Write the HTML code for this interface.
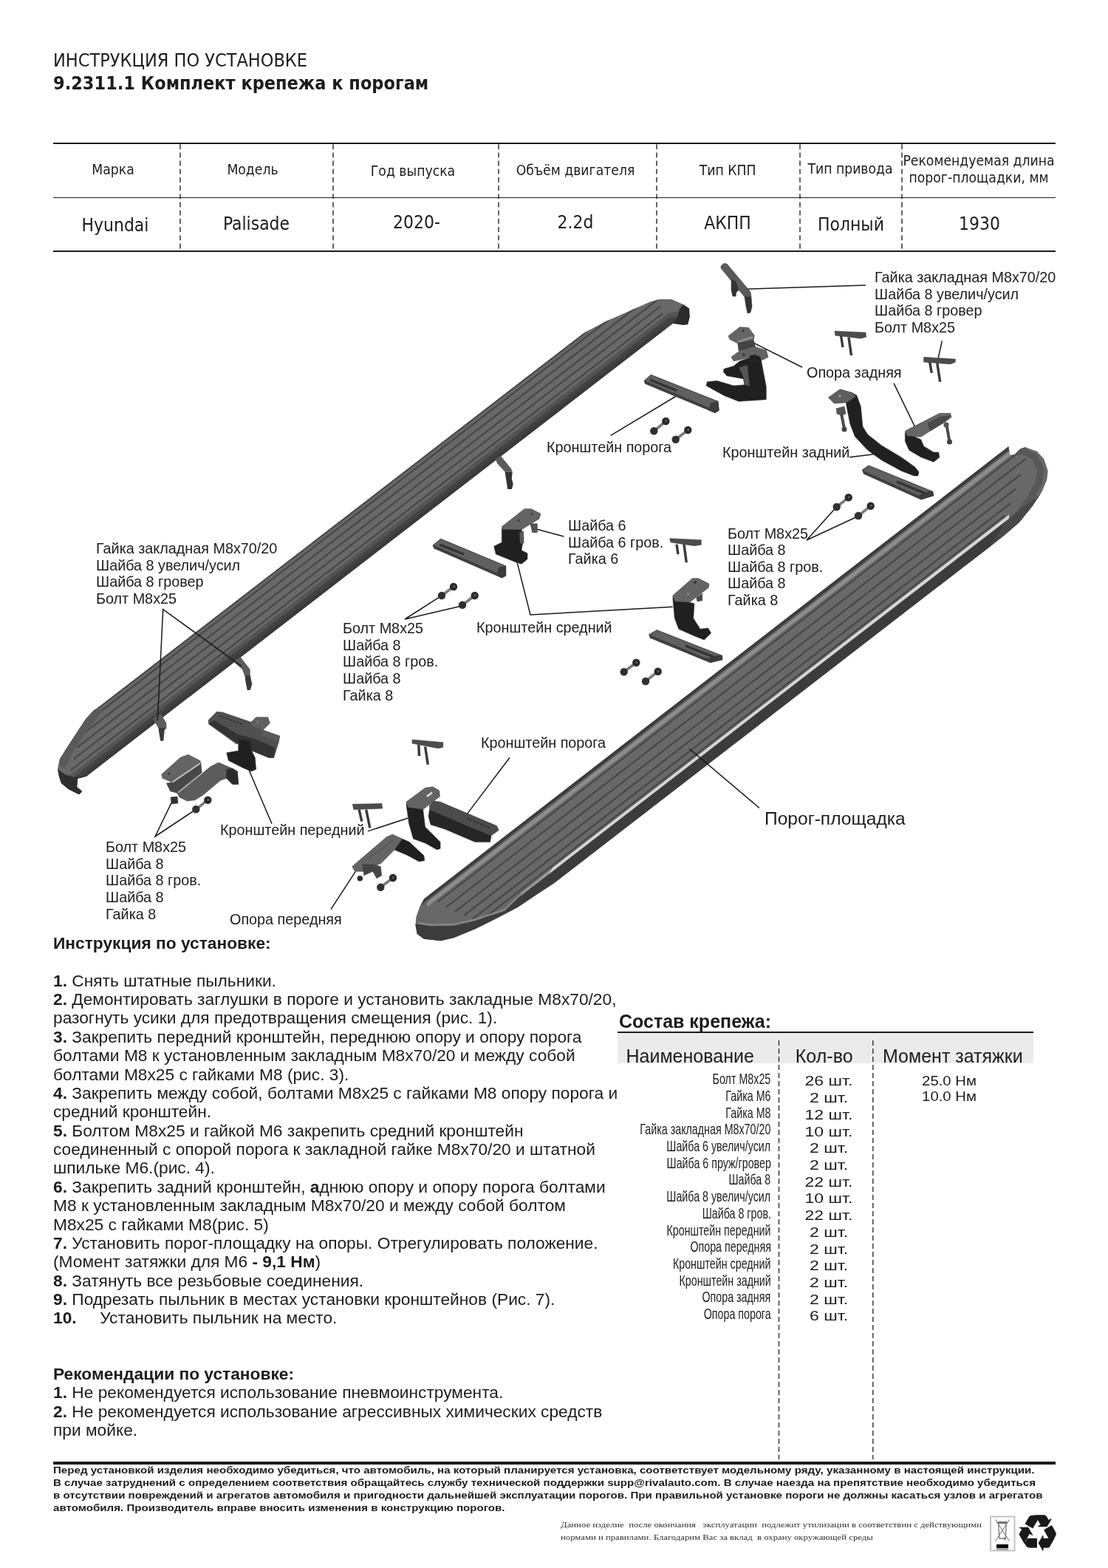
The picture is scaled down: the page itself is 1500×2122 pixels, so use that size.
<!DOCTYPE html><html lang="ru"><head><meta charset="utf-8"><title>Инструкция по установке 9.2311.1</title>
<style>
*{margin:0;padding:0;box-sizing:border-box}
html,body{width:1500px;height:2122px;background:#fff;overflow:hidden}
body{position:relative;font-family:"Liberation Sans",sans-serif;color:#1c1c1c}
#pg{position:absolute;left:0;top:0;width:1500px;height:2122px;will-change:transform}
.t{position:absolute;white-space:pre;line-height:1;transform-origin:0 0}
.th{font-family:"DejaVu Sans Condensed","DejaVu Sans","Liberation Sans",sans-serif}
.hl{position:absolute;background:#1c1c1c}
b{font-weight:700}
svg{position:absolute;left:0;top:0}
.sf{font-family:"Liberation Serif",serif;font-size:10.5px;color:#333}
</style></head><body><div id="pg">
<div class="t th" style="top:68.85px;font-size:25px;left:72.00px;">ИНСТРУКЦИЯ ПО УСТАНОВКЕ</div>
<div class="t th" style="top:99.85px;font-size:25px;left:72.00px;font-weight:700;">9.2311.1 Комплект крепежа к порогам</div>
<div class="hl" style="left:72px;top:192.8px;width:1357px;height:2.4px"></div>
<div class="hl" style="left:72px;top:266.6px;width:1357px;height:1.5px"></div>
<div class="hl" style="left:72px;top:339.1px;width:1357px;height:2.4px"></div>
<svg width="1500" height="2122" viewBox="0 0 1500 2122" style="pointer-events:none"><line x1="244" y1="195.2" x2="244" y2="339" stroke="#222" stroke-width="1.4" stroke-dasharray="6.8 4.4"/><line x1="451" y1="195.2" x2="451" y2="339" stroke="#222" stroke-width="1.4" stroke-dasharray="6.8 4.4"/><line x1="675" y1="195.2" x2="675" y2="339" stroke="#222" stroke-width="1.4" stroke-dasharray="6.8 4.4"/><line x1="889" y1="195.2" x2="889" y2="339" stroke="#222" stroke-width="1.4" stroke-dasharray="6.8 4.4"/><line x1="1083" y1="195.2" x2="1083" y2="339" stroke="#222" stroke-width="1.4" stroke-dasharray="6.8 4.4"/><line x1="1221" y1="195.2" x2="1221" y2="339" stroke="#222" stroke-width="1.4" stroke-dasharray="6.8 4.4"/></svg>
<div class="t th" style="top:219.76px;font-size:19.2px;left:-147.00px;width:600px;text-align:center;transform-origin:50% 0;">Марка</div>
<div class="t th" style="top:219.76px;font-size:19.2px;left:42.00px;width:600px;text-align:center;transform-origin:50% 0;">Модель</div>
<div class="t th" style="top:221.76px;font-size:19.2px;left:259.00px;width:600px;text-align:center;transform-origin:50% 0;">Год выпуска</div>
<div class="t th" style="top:220.76px;font-size:19.2px;left:479.00px;width:600px;text-align:center;transform-origin:50% 0;">Объём двигателя</div>
<div class="t th" style="top:220.76px;font-size:19.2px;left:685.00px;width:600px;text-align:center;transform-origin:50% 0;">Тип КПП</div>
<div class="t th" style="top:218.76px;font-size:19.2px;left:851.00px;width:600px;text-align:center;transform-origin:50% 0;">Тип привода</div>
<div class="t th" style="top:207.76px;font-size:19.2px;left:1025.00px;width:600px;text-align:center;transform-origin:50% 0;">Рекомендуемая длина</div>
<div class="t th" style="top:230.76px;font-size:19.2px;left:1025.00px;width:600px;text-align:center;transform-origin:50% 0;">порог-площадки, мм</div>
<div class="t th" style="top:292.96px;font-size:24.4px;left:-144.00px;width:600px;text-align:center;transform-origin:50% 0;">Hyundai</div>
<div class="t th" style="top:290.76px;font-size:24.4px;left:47.00px;width:600px;text-align:center;transform-origin:50% 0;">Palisade</div>
<div class="t th" style="top:289.36px;font-size:24.4px;left:264.00px;width:600px;text-align:center;transform-origin:50% 0;">2020-</div>
<div class="t th" style="top:289.36px;font-size:24.4px;left:479.00px;width:600px;text-align:center;transform-origin:50% 0;">2.2d</div>
<div class="t th" style="top:290.36px;font-size:24.4px;left:685.00px;width:600px;text-align:center;transform-origin:50% 0;">АКПП</div>
<div class="t th" style="top:292.36px;font-size:24.4px;left:852.00px;width:600px;text-align:center;transform-origin:50% 0;">Полный</div>
<div class="t th" style="top:291.36px;font-size:24.4px;left:1026.00px;width:600px;text-align:center;transform-origin:50% 0;">1930</div>
<svg width="1500" height="2122" viewBox="0 0 1500 2122">
<defs>
<clipPath id="cA"><polygon points="132,958 790,450.9 819,435.5 853,420.5 880,408.5 893,405 909,405 925,412 933,417.5 933.5,429 931,439 924,439.5 911,437.4 117,1050.4 105,1053.5 104,1065 111,1071 107,1075 93,1068 83,1060 80,1051 78,1041 81,1027 95,1005 116,973 127,961"/></clipPath>
<clipPath id="cB"><polygon points="574,1216.4 1365.3,604.2 1367.3,616 1373.3,615.3 1381.3,607.3 1388,605.3 1404,610.7 1413.3,621.3 1418.7,637.3 1417.3,649.3 1410.7,665.3 1397.3,685.3 1380,706.7 1360,724 1333.3,745.3 1316,758.4 750,1195.3 723.3,1212.7 700.7,1228 670,1244 643.3,1257.3 614,1269.3 596.7,1273.3 574,1270.7 564.7,1264 562.5,1252 563.3,1241.3 568,1228"/></clipPath>
</defs>
<polygon points="132,958 790,450.9 819,435.5 853,420.5 880,408.5 893,405 909,405 925,412 933,417.5 933.5,429 931,439 924,439.5 911,437.4 117,1050.4 105,1053.5 104,1065 111,1071 107,1075 93,1068 83,1060 80,1051 78,1041 81,1027 95,1005 116,973 127,961" fill="#686868"/>
<g clip-path="url(#cA)">
<polygon points="60,1075.8 905,423.7 935,418 960,418 960,470 60,1200" fill="#545454"/>
<polygon points="60,1082.3 905,430.1 935,426 960,426 960,470 60,1200" fill="#424242"/>
<polygon points="60,1088.7 900,440.3 900,469.9 60,1118.7" fill="#3a3a3a"/>
<line x1="112" y1="981.5" x2="885" y2="385.7" stroke="#484848" stroke-width="2.3"/>
<line x1="108" y1="996.7" x2="888" y2="395.3" stroke="#484848" stroke-width="2.3"/>
<line x1="104" y1="1011.9" x2="891" y2="405" stroke="#484848" stroke-width="2.3"/>
<line x1="100" y1="1027.1" x2="894" y2="414.6" stroke="#484848" stroke-width="2.3"/>
<line x1="96" y1="1042.4" x2="897" y2="424.3" stroke="#484848" stroke-width="2.3"/>
<line x1="120" y1="968.3" x2="800" y2="444.2" stroke="#484848" stroke-width="2.3"/>
<polygon points="70,1030 95,1000 118,970 132,958 140,962 120,985 100,1015 88,1040" fill="#5a5a5a"/>
</g>
<polygon points="911,437.5 924,439.5 931,439 933.5,429 933,417.5 925,412 920,418 917,430" fill="#2c2c2c"/>
<polygon points="80,1051 83,1060 93,1068 107,1075 111,1071 104,1065 105,1053.5 117,1050.4 100,1052 88,1048 78,1041" fill="#2e2e2e"/>
<polygon points="670.4,620.8 677.9,617.1 691.9,633.9 693.7,638.5 683.5,638.5 673.2,627.3" fill="#5c5c5c"/>
<polygon points="683.5,638.5 693.7,638.5 692.8,647.9 694.7,655.3 692.8,661.9 687.2,661.9 685.3,649.7" fill="#333"/>
<polygon points="316,895.3 325.3,888.7 338.7,906 338.7,916.7 332,916.7 328,906" fill="#5c5c5c"/>
<polygon points="332,914 338.7,914 341.3,926 338.7,934 334.7,934 332,920" fill="#3a3a3a"/>
<polygon points="207,972 218,966 225.3,978.7 225.3,986 214.7,986" fill="#5c5c5c"/>
<polygon points="214.7,985 225.3,985 222.7,988 221.3,1002.7 217.3,1002.7 215,990" fill="#3a3a3a"/>
<polygon points="574,1216.4 1365.3,604.2 1367.3,616 1373.3,615.3 1381.3,607.3 1388,605.3 1404,610.7 1413.3,621.3 1418.7,637.3 1417.3,649.3 1410.7,665.3 1397.3,685.3 1380,706.7 1360,724 1333.3,745.3 1316,758.4 750,1195.3 723.3,1212.7 700.7,1228 670,1244 643.3,1257.3 614,1269.3 596.7,1273.3 574,1270.7 564.7,1264 562.5,1252 563.3,1241.3 568,1228" fill="#686868"/>
<g clip-path="url(#cB)">
<polygon points="540,1237 1367,597.1 1367,608.1 540,1247.9" fill="#3c3c3c"/>
<polygon points="540,1247.9 1367,608.1 1367,610.5 540,1250.1" fill="#606060"/>
<polygon points="578,1220.8 1367,610.5 1367,617.4 578,1227.6" fill="#8c8c8c"/>
<polygon points="578,1227.6 1367,617.4 1367,619.8 578,1229.9" fill="#6a6a6a"/>
<line x1="592" y1="1220.8" x2="1396" y2="599.1" stroke="#484848" stroke-width="2.3"/>
<line x1="604" y1="1227.6" x2="1389" y2="620.7" stroke="#484848" stroke-width="2.3"/>
<line x1="616" y1="1233.9" x2="1382" y2="641.8" stroke="#484848" stroke-width="2.3"/>
<line x1="628" y1="1239" x2="1375" y2="661.7" stroke="#484848" stroke-width="2.3"/>
<line x1="640" y1="1243.5" x2="1368" y2="681.1" stroke="#484848" stroke-width="2.3"/>
<line x1="652" y1="1245.1" x2="1361" y2="697.5" stroke="#484848" stroke-width="2.3"/>
<polyline points="1368,612 1386,611 1401,619 1409,636 1406,654 1394,676 1376,700 1358,716" fill="none" stroke="#575757" stroke-width="9" stroke-linejoin="round"/>
<polygon points="1440,644.6 1362,704.9 700,1216.1 683,1233 643,1246.5 614,1253 583,1253.5 560,1250 540,1300 1440,1300" fill="#3c3c3c"/>
<polygon points="1362,704.9 1440,644.6 1440,800 1300,800" fill="#484848"/>
<polygon points="748,1174.4 1366,696.6 1366,701.8 742,1183.7" fill="#d6d6d6"/>
<polygon points="705,1208.8 748,1174.4 742,1183.7 705,1212.2" fill="#9a9a9a"/>
<polyline points="566,1249 583,1251.5 614,1251 643,1244.5 683,1231 705,1210.5" fill="none" stroke="#8a8a8a" stroke-width="2"/>
</g>
<polyline points="1009,391.2 1172,386" fill="none" stroke="#1a1a1a" stroke-width="1.5"/>
<polyline points="1016,462 1086,497" fill="none" stroke="#1a1a1a" stroke-width="1.5"/>
<polyline points="1210,518.7 1242,584.7" fill="none" stroke="#1a1a1a" stroke-width="1.5"/>
<polyline points="1275.3,461.3 1269.3,488.7" fill="none" stroke="#1a1a1a" stroke-width="1.5"/>
<polyline points="914.7,536.5 826.7,589.3" fill="none" stroke="#1a1a1a" stroke-width="1.5"/>
<polyline points="1150,618.7 1182.7,614.7" fill="none" stroke="#1a1a1a" stroke-width="1.5"/>
<polyline points="1130,688.7 1092,731 1158.7,700" fill="none" stroke="#1a1a1a" stroke-width="1.5"/>
<polyline points="726,716 763.3,726" fill="none" stroke="#1a1a1a" stroke-width="1.5"/>
<polyline points="699.3,758 718,832 910.7,821.3" fill="none" stroke="#1a1a1a" stroke-width="1.5"/>
<polyline points="594,808.7 548,838 622,820.7" fill="none" stroke="#1a1a1a" stroke-width="1.5"/>
<polyline points="213.3,975.3 220.7,824.7 326.7,901.3" fill="none" stroke="#1a1a1a" stroke-width="1.5"/>
<polyline points="232,1086.7 210,1132 261.3,1098" fill="none" stroke="#1a1a1a" stroke-width="1.5"/>
<polyline points="337.3,1042.7 368,1114.7" fill="none" stroke="#1a1a1a" stroke-width="1.5"/>
<polyline points="497.9,1124.9 552.1,1107.3" fill="none" stroke="#1a1a1a" stroke-width="1.5"/>
<polyline points="690,1025.2 629.1,1105.9" fill="none" stroke="#1a1a1a" stroke-width="1.5"/>
<polyline points="481.3,1179.3 448,1230.7" fill="none" stroke="#1a1a1a" stroke-width="1.5"/>
<polyline points="933,1013 1028,1093.5" fill="none" stroke="#1a1a1a" stroke-width="1.5"/>
<polygon points="976,360 980,356.5 984,357 1016,395 1017,402 1008,402 1004,397 976,363" fill="#5a5a5a" stroke="#303030" stroke-width="0.5" stroke-linejoin="round"/>
<polygon points="990,378 996,381 1000,393 997,395 996,401 992,401 990,393" fill="#333" stroke="#303030" stroke-width="0.5" stroke-linejoin="round"/>
<polygon points="1008,402 1017,402 1018,415 1016,423 1012,424 1010,415" fill="#333" stroke="#303030" stroke-width="0.5" stroke-linejoin="round"/>
<polygon points="980,499.3 993.3,495.3 1001.3,488.7 1017.3,483.3 1030.7,488.7 1037.3,523.3 1037.3,540.7 1000,543.3 980,535.3 956,522 957.3,516.7 970.7,515.3 993.3,522 1008,520.7 1006.7,512.7 984,508.7 979.3,503.3" fill="#202020" stroke="#303030" stroke-width="0.5" stroke-linejoin="round"/>
<polygon points="1000,497 1012,494 1015,523 1008,520.7 1006,510" fill="#555" stroke="#303030" stroke-width="0.5" stroke-linejoin="round"/>
<polygon points="998.7,463.3 1020,459.3 1022.7,470 1000,474.5" fill="#444" stroke="#303030" stroke-width="0.5" stroke-linejoin="round"/>
<polygon points="986,454.7 1001.3,442.7 1013.3,443.3 1021.3,454 1020,460.7 998.7,464.7 988,459.3" fill="#666" stroke="#303030" stroke-width="0.5" stroke-linejoin="round"/>
<polyline points="999,462.5 1019,456" fill="none" stroke="#999" stroke-width="2"/>
<polygon points="990,483.3 1001.3,474.7 1020,468.7 1037.3,474 1040,483.3 1032,487.3 1017.3,483.3 993.3,488.7" fill="#646464" stroke="#303030" stroke-width="0.5" stroke-linejoin="round"/>
<polygon points="1015,481.5 1022,480 1029,483 1031,489 1015,489" fill="#202020" stroke="#303030" stroke-width="0.5" stroke-linejoin="round"/>
<circle cx="1006" cy="447.5" r="1.6" fill="#333"/>
<circle cx="1007" cy="480" r="1.8" fill="#333"/>
<polygon points="872,515.3 881.3,507.3 972,543.3 973.3,555.3 968,558.7 873.3,519.3" fill="#3e3e3e" stroke="#303030" stroke-width="0.5" stroke-linejoin="round"/>
<polygon points="872,515.3 881.3,507.3 972,543.3 967.3,549.7 964,553.8 873.8,515.9" fill="#606060" stroke="#303030" stroke-width="0.5" stroke-linejoin="round"/>
<line x1="880" y1="514" x2="916" y2="528.5" stroke="#333" stroke-width="3.2"/>
<polygon points="962,546 972,543.3 973.3,555.3 968,558.7 960,555" fill="#3c3c3c" stroke="#303030" stroke-width="0.5" stroke-linejoin="round"/>
<line x1="901.3" y1="570" x2="885.3" y2="583.3" stroke="#7a7a7a" stroke-width="3.6"/>
<circle cx="901.3" cy="570" r="5.2" fill="#2a2a2a"/>
<circle cx="885.3" cy="583.3" r="5.2" fill="#303030"/>
<circle cx="901.8" cy="569.5" r="1.5" fill="#5c5c5c"/>
<line x1="931.3" y1="582" x2="914.7" y2="594.7" stroke="#7a7a7a" stroke-width="3.6"/>
<circle cx="931.3" cy="582" r="5.2" fill="#2a2a2a"/>
<circle cx="914.7" cy="594.7" r="5.2" fill="#303030"/>
<circle cx="931.8" cy="581.5" r="1.5" fill="#5c5c5c"/>
<line x1="1138.5" y1="454" x2="1141" y2="470" stroke="#383838" stroke-width="3.4"/>
<line x1="1149" y1="456.7" x2="1152.5" y2="481" stroke="#383838" stroke-width="3.4"/>
<polygon points="1130,448 1172,450 1172.7,456 1165.3,458 1130.7,454" fill="#4c4c4c" stroke="#303030" stroke-width="0.5" stroke-linejoin="round"/>
<line x1="1258.7" y1="490" x2="1261.3" y2="504.7" stroke="#383838" stroke-width="3.4"/>
<line x1="1268.7" y1="491.3" x2="1272.7" y2="516.7" stroke="#383838" stroke-width="3.4"/>
<polygon points="1250.7,483.3 1293.3,486 1293.3,490 1286.7,492.7 1250.7,490" fill="#4c4c4c" stroke="#303030" stroke-width="0.5" stroke-linejoin="round"/>
<polygon points="1153.3,531.3 1160,535.3 1165.3,550 1168,577.3 1174.7,588 1193.3,602.7 1220,618.7 1238.7,632 1244,638.7 1242.7,644 1237.3,644 1220,637.3 1193.3,622.7 1174.7,609.3 1157.3,590.7 1150.7,573.3 1145.3,546" fill="#202020" stroke="#303030" stroke-width="0.5" stroke-linejoin="round"/>
<polygon points="1121.3,538 1137.3,526.7 1153.3,531.3 1158.7,536.7 1146.7,544.7 1129.3,546" fill="#5e5e5e" stroke="#303030" stroke-width="0.5" stroke-linejoin="round"/>
<circle cx="1137" cy="536" r="1.8" fill="#999"/>
<polygon points="1132,553 1143,550 1145,560 1139,562 1133,560" fill="#555" stroke="#303030" stroke-width="0.5" stroke-linejoin="round"/>
<line x1="1139" y1="560" x2="1143" y2="580" stroke="#4a4a4a" stroke-width="4"/>
<circle cx="1143" cy="581" r="3.5" fill="#444"/>
<polygon points="1225.3,585.3 1246.7,594.7 1250.7,604 1264,612 1270.7,612 1272,618.7 1264,625.3 1246.7,618.7 1230.7,609.3 1225.3,597.3" fill="#202020" stroke="#303030" stroke-width="0.5" stroke-linejoin="round"/>
<polygon points="1225.3,583.3 1272,559.3 1286.7,559.3 1288,564.7 1280,570 1246.7,591.3 1228,590" fill="#666" stroke="#303030" stroke-width="0.5" stroke-linejoin="round"/>
<polygon points="1256,573.3 1273.3,564 1286.7,562.7 1280,570.7 1260,582.7" fill="#4a4a4a" stroke="#303030" stroke-width="0.5" stroke-linejoin="round"/>
<line x1="1281" y1="572" x2="1285.5" y2="598" stroke="#4a4a4a" stroke-width="4"/>
<circle cx="1285.5" cy="598" r="3.6" fill="#444"/>
<circle cx="1281" cy="575" r="3.6" fill="#555"/>
<polygon points="1167.3,636 1176,630 1262.7,665.3 1264,670.7 1246.7,676 1169.3,641.3" fill="#3e3e3e" stroke="#303030" stroke-width="0.5" stroke-linejoin="round"/>
<polygon points="1167.3,636 1176,630 1262.7,665.3 1258,665.1 1242.7,671.1 1169.8,637.9" fill="#606060" stroke="#303030" stroke-width="0.5" stroke-linejoin="round"/>
<line x1="1214" y1="652" x2="1252" y2="667.5" stroke="#333" stroke-width="3.2"/>
<polygon points="1250,668 1262.7,665.3 1264,670.7 1246.7,676" fill="#3c3c3c" stroke="#303030" stroke-width="0.5" stroke-linejoin="round"/>
<line x1="1148.7" y1="673.3" x2="1132.7" y2="686" stroke="#7a7a7a" stroke-width="3.6"/>
<circle cx="1148.7" cy="673.3" r="5.2" fill="#2a2a2a"/>
<circle cx="1132.7" cy="686" r="5.2" fill="#303030"/>
<circle cx="1149.2" cy="672.8" r="1.5" fill="#5c5c5c"/>
<line x1="1178.7" y1="684.7" x2="1162" y2="698" stroke="#7a7a7a" stroke-width="3.6"/>
<circle cx="1178.7" cy="684.7" r="5.2" fill="#2a2a2a"/>
<circle cx="1162" cy="698" r="5.2" fill="#303030"/>
<circle cx="1179.2" cy="684.2" r="1.5" fill="#5c5c5c"/>
<polygon points="586,738 596.7,729.3 684.7,766 684.7,779.3 679.3,782 587.3,742" fill="#3e3e3e" stroke="#303030" stroke-width="0.5" stroke-linejoin="round"/>
<polygon points="586,738 596.7,729.3 684.7,766 678.7,773.7 675.3,777.1 587.8,738.6" fill="#606060" stroke="#303030" stroke-width="0.5" stroke-linejoin="round"/>
<line x1="595" y1="737" x2="628" y2="750" stroke="#333" stroke-width="3.2"/>
<polygon points="675,768 684.7,766 684.7,779.3 679.3,782 673,778" fill="#3c3c3c" stroke="#303030" stroke-width="0.5" stroke-linejoin="round"/>
<polygon points="679.3,715.3 706,716.7 708.7,728.7 706,744.7 714,748.7 714,756.7 706,763.3 698,760.7 671.3,750 668.7,739.3 679.3,734" fill="#202020" stroke="#303030" stroke-width="0.5" stroke-linejoin="round"/>
<polygon points="679.3,712.7 710,688.7 719.3,688.7 732,695.3 730,702 706,716.7 680.7,716.7" fill="#646464" stroke="#303030" stroke-width="0.5" stroke-linejoin="round"/>
<circle cx="702" cy="704.5" r="1.8" fill="#444"/>
<circle cx="720" cy="695.5" r="1.8" fill="#444"/>
<polygon points="718,708.7 727.3,708.7 727.3,720.7 720.7,720.7" fill="#555" stroke="#303030" stroke-width="0.5" stroke-linejoin="round"/>
<polygon points="703,720 708.7,719 709,735 704,736" fill="#5a5a5a" stroke="#303030" stroke-width="0.5" stroke-linejoin="round"/>
<line x1="614" y1="794" x2="598" y2="806" stroke="#7a7a7a" stroke-width="3.6"/>
<circle cx="614" cy="794" r="5.2" fill="#2a2a2a"/>
<circle cx="598" cy="806" r="5.2" fill="#303030"/>
<circle cx="614.5" cy="793.5" r="1.5" fill="#5c5c5c"/>
<line x1="642.7" y1="806" x2="626" y2="818.7" stroke="#7a7a7a" stroke-width="3.6"/>
<circle cx="642.7" cy="806" r="5.2" fill="#2a2a2a"/>
<circle cx="626" cy="818.7" r="5.2" fill="#303030"/>
<circle cx="643.2" cy="805.5" r="1.5" fill="#5c5c5c"/>
<line x1="916" y1="736.7" x2="918" y2="750" stroke="#383838" stroke-width="3.4"/>
<line x1="926" y1="736.7" x2="929.3" y2="761.3" stroke="#383838" stroke-width="3.4"/>
<polygon points="906.7,728.7 949.3,730.7 949.3,737.3 940,738.7 908,734" fill="#4c4c4c" stroke="#303030" stroke-width="0.5" stroke-linejoin="round"/>
<polygon points="910.7,808.7 933.3,815.3 940,816.7 938.7,836.7 948,851.3 958.7,850 962.7,856.7 953.3,866 940,860.7 918.7,851.3 913.3,836.7" fill="#202020" stroke="#303030" stroke-width="0.5" stroke-linejoin="round"/>
<polygon points="910.7,806 937.3,782.7 945.3,782.7 960,790 959.3,795.3 933.3,815.3 913.3,814" fill="#646464" stroke="#303030" stroke-width="0.5" stroke-linejoin="round"/>
<circle cx="941" cy="788" r="2" fill="#333"/>
<circle cx="931.5" cy="804" r="1.8" fill="#888"/>
<polygon points="942.7,808.7 950.7,803.3 950.7,812.7 944,814" fill="#4a4a4a" stroke="#303030" stroke-width="0.5" stroke-linejoin="round"/>
<polygon points="878.7,858.7 889.3,852.7 977.3,887.3 978,892.7 961.3,896.7 880,863.3" fill="#3e3e3e" stroke="#303030" stroke-width="0.5" stroke-linejoin="round"/>
<polygon points="878.7,858.7 889.3,852.7 977.3,887.3 972,887.1 957.3,891.8 880.5,859.9" fill="#606060" stroke="#303030" stroke-width="0.5" stroke-linejoin="round"/>
<line x1="928" y1="874" x2="966" y2="889" stroke="#333" stroke-width="3.2"/>
<polygon points="964,890 977.3,887.3 978,892.7 961.3,896.7" fill="#3c3c3c" stroke="#303030" stroke-width="0.5" stroke-linejoin="round"/>
<line x1="861.3" y1="896.7" x2="844.7" y2="909.3" stroke="#7a7a7a" stroke-width="3.6"/>
<circle cx="861.3" cy="896.7" r="5.2" fill="#2a2a2a"/>
<circle cx="844.7" cy="909.3" r="5.2" fill="#303030"/>
<circle cx="861.8" cy="896.2" r="1.5" fill="#5c5c5c"/>
<line x1="890.7" y1="908.7" x2="874" y2="922" stroke="#7a7a7a" stroke-width="3.6"/>
<circle cx="890.7" cy="908.7" r="5.2" fill="#2a2a2a"/>
<circle cx="874" cy="922" r="5.2" fill="#303030"/>
<circle cx="891.2" cy="908.2" r="1.5" fill="#5c5c5c"/>
<polygon points="282,974.7 293.3,963.3 301.3,964 340,977.3 346.7,970.7 362.7,970.7 365.3,978.7 356,988 378.7,996 377.3,1004 370.7,1025.3 364,1025.3 341.3,1016 338.7,1004 320,1006.7 282.7,980" fill="#505050" stroke="#303030" stroke-width="0.5" stroke-linejoin="round"/>
<polygon points="346.7,970.7 362.7,970.7 365.3,978.7 356,988 341,982.5 340,977.3" fill="#606060" stroke="none"/>
<polygon points="356,988 378.7,996 377.3,1004 352,995" fill="#5a5a5a" stroke="none"/>
<polygon points="282.7,979 320,1005 338.7,1003 341.3,1016 364,1025.3 370.7,1025.3 372,1012 345,1000 322,994 290,975" fill="#333" stroke="#303030" stroke-width="0.5" stroke-linejoin="round"/>
<polygon points="306.7,1018.7 322.7,1016 322.7,1000 338.7,1002.7 341.3,1017.3 345.3,1025.3 346.7,1041.3 340,1044 328,1038.7 309.3,1029.3" fill="#202020" stroke="#303030" stroke-width="0.5" stroke-linejoin="round"/>
<line x1="297" y1="969" x2="328" y2="980" stroke="#333" stroke-width="1.6" stroke-dasharray='3 2'/>
<circle cx="349" cy="977" r="1.8" fill="#777"/>
<polygon points="233.3,1058.7 272,1033.3 273.3,1046.7 240,1073.3 230.7,1070.7 225.3,1060" fill="#484848" stroke="#303030" stroke-width="0.5" stroke-linejoin="round"/>
<polygon points="218.7,1048 244,1025.3 254.7,1021.3 270.7,1029.3 272,1033.3 233.3,1058.7 220,1053.3" fill="#646464" stroke="#303030" stroke-width="0.5" stroke-linejoin="round"/>
<polygon points="240,1073.3 285.3,1037.3 296,1032 314.7,1040 321.3,1044 322.7,1061.3 314.7,1061.3 306.7,1053.3 298.7,1056 274.7,1076 264,1082.7 253.3,1084 242.7,1078.7" fill="#5c5c5c" stroke="#303030" stroke-width="0.5" stroke-linejoin="round"/>
<polygon points="306.7,1041 314.7,1040 321.3,1044 322.7,1061.3 314.7,1061.3 306.7,1053.3" fill="#2c2c2c" stroke="#303030" stroke-width="0.5" stroke-linejoin="round"/>
<line x1="233.5" y1="1058.5" x2="271" y2="1033" stroke="#c8c8c8" stroke-width="1.8"/>
<line x1="241" y1="1072.5" x2="275" y2="1045" stroke="#bdbdbd" stroke-width="1.6"/>
<circle cx="229" cy="1047" r="1.6" fill="#333"/>
<polygon points="231,1079 240,1078 241,1087 232,1088" fill="#333" stroke="#303030" stroke-width="0.5" stroke-linejoin="round"/>
<line x1="281.3" y1="1082.7" x2="265.3" y2="1095.3" stroke="#7a7a7a" stroke-width="3.6"/>
<circle cx="281.3" cy="1082.7" r="5.2" fill="#2a2a2a"/>
<circle cx="265.3" cy="1095.3" r="5.2" fill="#303030"/>
<circle cx="281.8" cy="1082.2" r="1.5" fill="#5c5c5c"/>
<line x1="566.8" y1="1007.6" x2="567.5" y2="1023" stroke="#383838" stroke-width="3.4"/>
<line x1="575.6" y1="1010.5" x2="579.3" y2="1034.7" stroke="#383838" stroke-width="3.4"/>
<polygon points="558,1001 599.8,1004.7 599.8,1011.3 593.2,1012.7 558,1006.1" fill="#4c4c4c" stroke="#303030" stroke-width="0.5" stroke-linejoin="round"/>
<line x1="486.1" y1="1095.6" x2="489.8" y2="1111.7" stroke="#383838" stroke-width="3.4"/>
<line x1="495.7" y1="1095.6" x2="500.8" y2="1120.5" stroke="#383838" stroke-width="3.4"/>
<polygon points="477.3,1088.3 516.9,1087.5 517.7,1094.1 478.8,1095.6" fill="#4c4c4c" stroke="#303030" stroke-width="0.5" stroke-linejoin="round"/>
<polygon points="549.9,1088.3 572.7,1095.6 575.6,1119.1 596.1,1139.6 596.1,1148.4 591.7,1149.9 575.6,1141.1 559.5,1135.2 553.6,1114.7" fill="#202020" stroke="#303030" stroke-width="0.5" stroke-linejoin="round"/>
<polygon points="549.9,1085.3 575.6,1066.3 585.9,1064.8 594.7,1069.9 595.4,1078 587.3,1083.9 572.7,1095.6 552.1,1092.7" fill="#636363" stroke="#303030" stroke-width="0.5" stroke-linejoin="round"/>
<line x1="578" y1="1078" x2="585" y2="1072.5" stroke="#ddd" stroke-width="2.6"/>
<polygon points="581.5,1095.6 665.1,1130.8 663.6,1139.6 643.1,1139.6 602,1122 582.9,1116.1 580,1104.4" fill="#262626" stroke="#303030" stroke-width="0.5" stroke-linejoin="round"/>
<polygon points="581.5,1089.7 587.3,1083.9 596.1,1085.3 672.4,1117.6 675.3,1123.5 665.1,1130.8 631.3,1116.1 581.5,1095.6" fill="#4c4c4c" stroke="#303030" stroke-width="0.5" stroke-linejoin="round"/>
<line x1="632" y1="1107" x2="664" y2="1121" stroke="#333" stroke-width="2.4" stroke-dasharray='3 2'/>
<polygon points="534,1150 544.7,1135.3 554,1139.3 574,1158 574.7,1164.7 567.3,1166 550,1156.7 536.7,1151.3" fill="#202020" stroke="#303030" stroke-width="0.5" stroke-linejoin="round"/>
<polygon points="476.7,1172.7 523.3,1132.7 531.3,1129.3 544.7,1135.3 534,1150 515.3,1168.7 504.7,1172.7 494,1179.3 480.7,1179.3" fill="#646464" stroke="#303030" stroke-width="0.5" stroke-linejoin="round"/>
<line x1="498" y1="1163" x2="532" y2="1137" stroke="#555" stroke-width="1.4"/>
<polygon points="491.3,1170 504.7,1170 515.3,1172.7 516.7,1184.7 510,1188.7 504.7,1179.3 492.7,1184.7" fill="#444" stroke="#303030" stroke-width="0.5" stroke-linejoin="round"/>
<circle cx="487.3" cy="1188.7" r="3.8" fill="#2c2c2c"/>
<line x1="532" y1="1188" x2="515.3" y2="1200.7" stroke="#7a7a7a" stroke-width="3.6"/>
<circle cx="532" cy="1188" r="5.2" fill="#2a2a2a"/>
<circle cx="515.3" cy="1200.7" r="5.2" fill="#303030"/>
<circle cx="532.5" cy="1187.5" r="1.5" fill="#5c5c5c"/>
</svg>
<div class="t" style="top:366.24px;font-size:19.8px;left:1184.00px;">Гайка закладная M8x70/20</div>
<div class="t" style="top:388.84px;font-size:19.8px;left:1184.00px;">Шайба 8 увелич/усил</div>
<div class="t" style="top:411.44px;font-size:19.8px;left:1184.00px;">Шайба 8 гровер</div>
<div class="t" style="top:434.04px;font-size:19.8px;left:1184.00px;">Болт M8x25</div>
<div class="t" style="top:733.24px;font-size:19.8px;left:130.00px;">Гайка закладная M8x70/20</div>
<div class="t" style="top:755.84px;font-size:19.8px;left:130.00px;">Шайба 8 увелич/усил</div>
<div class="t" style="top:778.44px;font-size:19.8px;left:130.00px;">Шайба 8 гровер</div>
<div class="t" style="top:801.04px;font-size:19.8px;left:130.00px;">Болт M8x25</div>
<div class="t" style="top:702.24px;font-size:19.8px;left:769.00px;">Шайба 6</div>
<div class="t" style="top:724.84px;font-size:19.8px;left:769.00px;">Шайба 6 гров.</div>
<div class="t" style="top:747.44px;font-size:19.8px;left:769.00px;">Гайка 6</div>
<div class="t" style="top:712.54px;font-size:19.8px;left:985.00px;">Болт M8x25</div>
<div class="t" style="top:735.14px;font-size:19.8px;left:985.00px;">Шайба 8</div>
<div class="t" style="top:757.74px;font-size:19.8px;left:985.00px;">Шайба 8 гров.</div>
<div class="t" style="top:780.34px;font-size:19.8px;left:985.00px;">Шайба 8</div>
<div class="t" style="top:802.94px;font-size:19.8px;left:985.00px;">Гайка 8</div>
<div class="t" style="top:841.24px;font-size:19.8px;left:464.00px;">Болт M8x25</div>
<div class="t" style="top:863.84px;font-size:19.8px;left:464.00px;">Шайба 8</div>
<div class="t" style="top:886.44px;font-size:19.8px;left:464.00px;">Шайба 8 гров.</div>
<div class="t" style="top:909.04px;font-size:19.8px;left:464.00px;">Шайба 8</div>
<div class="t" style="top:931.64px;font-size:19.8px;left:464.00px;">Гайка 8</div>
<div class="t" style="top:1137.24px;font-size:19.8px;left:143.00px;">Болт M8x25</div>
<div class="t" style="top:1159.84px;font-size:19.8px;left:143.00px;">Шайба 8</div>
<div class="t" style="top:1182.44px;font-size:19.8px;left:143.00px;">Шайба 8 гров.</div>
<div class="t" style="top:1205.04px;font-size:19.8px;left:143.00px;">Шайба 8</div>
<div class="t" style="top:1227.64px;font-size:19.8px;left:143.00px;">Гайка 8</div>
<div class="t" style="top:494.84px;font-size:19.8px;left:1092.00px;">Опора задняя</div>
<div class="t" style="top:595.94px;font-size:19.8px;left:740.00px;">Кронштейн порога</div>
<div class="t" style="top:603.24px;font-size:19.8px;left:978.00px;">Кронштейн задний</div>
<div class="t" style="top:839.94px;font-size:19.8px;left:645.00px;">Кронштейн средний</div>
<div class="t" style="top:996.24px;font-size:19.8px;left:651.00px;">Кронштейн порога</div>
<div class="t" style="top:1114.24px;font-size:19.8px;left:298.00px;">Кронштейн передний</div>
<div class="t" style="top:1235.24px;font-size:19.8px;left:311.00px;">Опора передняя</div>
<div class="t" style="top:1096.18px;font-size:24.6px;left:1035.00px;">Порог-площадка</div>
<div class="t" style="top:1264.75px;font-size:22.74px;left:72.00px;font-weight:700;">Инструкция по установке:</div>
<div class="t" style="top:1315.75px;font-size:22.74px;left:72.00px;"><b>1.</b> Снять штатные пыльники.</div>
<div class="t" style="top:1341.12px;font-size:22.74px;left:72.00px;"><b>2.</b> Демонтировать заглушки в пороге и установить закладные M8x70/20,</div>
<div class="t" style="top:1366.49px;font-size:22.74px;left:72.00px;">разогнуть усики для предотвращения смещения (рис. 1).</div>
<div class="t" style="top:1391.86px;font-size:22.74px;left:72.00px;"><b>3.</b> Закрепить передний кронштейн, переднюю опору и опору порога</div>
<div class="t" style="top:1417.23px;font-size:22.74px;left:72.00px;">болтами M8 к установленным закладным M8x70/20 и между собой</div>
<div class="t" style="top:1442.60px;font-size:22.74px;left:72.00px;">болтами M8x25 с гайками M8 (рис. 3).</div>
<div class="t" style="top:1467.97px;font-size:22.74px;left:72.00px;"><b>4.</b> Закрепить между собой, болтами M8x25 с гайками M8 опору порога и</div>
<div class="t" style="top:1493.34px;font-size:22.74px;left:72.00px;">средний кронштейн.</div>
<div class="t" style="top:1518.71px;font-size:22.74px;left:72.00px;"><b>5.</b> Болтом M8x25 и гайкой M6 закрепить средний кронштейн</div>
<div class="t" style="top:1544.08px;font-size:22.74px;left:72.00px;">соединенный с опорой порога к закладной гайке M8x70/20 и штатной</div>
<div class="t" style="top:1569.45px;font-size:22.74px;left:72.00px;">шпильке M6.(рис. 4).</div>
<div class="t" style="top:1594.82px;font-size:22.74px;left:72.00px;"><b>6.</b> Закрепить задний кронштейн, <b>а</b>днюю опору и опору порога болтами</div>
<div class="t" style="top:1620.19px;font-size:22.74px;left:72.00px;">M8 к установленным закладным M8x70/20 и между собой болтом</div>
<div class="t" style="top:1645.56px;font-size:22.74px;left:72.00px;">M8x25 с гайками M8(рис. 5)</div>
<div class="t" style="top:1670.93px;font-size:22.74px;left:72.00px;"><b>7.</b> Установить порог-площадку на опоры. Отрегулировать положение.</div>
<div class="t" style="top:1696.30px;font-size:22.74px;left:72.00px;">(Момент затяжки для M6 <b>- 9,1 Нм</b>)</div>
<div class="t" style="top:1721.67px;font-size:22.74px;left:72.00px;"><b>8.</b> Затянуть все резьбовые соединения.</div>
<div class="t" style="top:1747.04px;font-size:22.74px;left:72.00px;"><b>9.</b> Подрезать пыльник в местах установки кронштейнов (Рис. 7).</div>
<div class="t" style="top:1772.41px;font-size:22.74px;left:72.00px;"><b>10.</b>     Установить пыльник на место.</div>
<div class="t" style="top:1847.75px;font-size:22.74px;left:72.00px;font-weight:700;">Рекомендации по установке:</div>
<div class="t" style="top:1873.25px;font-size:22.74px;left:72.00px;"><b>1.</b> Не рекомендуется использование пневмоинструмента.</div>
<div class="t" style="top:1898.62px;font-size:22.74px;left:72.00px;"><b>2.</b> Не рекомендуется использование агрессивных химических средств</div>
<div class="t" style="top:1923.99px;font-size:22.74px;left:72.00px;">при мойке.</div>
<div class="t" style="top:1370.14px;font-size:25px;left:838.00px;font-weight:700;">Состав крепежа:</div>
<div style="position:absolute;left:836px;top:1398px;width:563px;height:41px;background:#ebebeb"></div>
<div class="hl" style="left:836px;top:1396.3px;width:563px;height:2px"></div>
<svg width="1500" height="2122" viewBox="0 0 1500 2122"><line x1="1054.5" y1="1408" x2="1054.5" y2="1975" stroke="#222" stroke-width="1.3" stroke-dasharray="7 4"/><line x1="1181.8" y1="1408" x2="1181.8" y2="1975" stroke="#222" stroke-width="1.3" stroke-dasharray="7 4"/></svg>
<div class="t" style="top:1416.64px;font-size:25px;left:847.50px;">Наименование</div>
<div class="t" style="top:1416.64px;font-size:25px;left:1076.80px;">Кол-во</div>
<div class="t" style="top:1416.64px;font-size:25px;left:1195.00px;">Момент затяжки</div>
<div class="t" style="top:1450.10px;font-size:20.2px;right:456.40px;transform-origin:100% 0;transform:scaleX(0.707);">Болт M8x25</div>
<div class="t" style="top:1454.34px;font-size:18.5px;left:821.50px;width:600px;text-align:center;transform-origin:50% 0;transform:scaleX(1.245);">26 шт.</div>
<div class="t" style="top:1454.52px;font-size:17.7px;left:985.40px;width:600px;text-align:center;transform-origin:50% 0;transform:scaleX(1.148);">25.0 Нм</div>
<div class="t" style="top:1472.82px;font-size:20.2px;right:456.40px;transform-origin:100% 0;transform:scaleX(0.707);">Гайка M6</div>
<div class="t" style="top:1477.06px;font-size:18.5px;left:821.50px;width:600px;text-align:center;transform-origin:50% 0;transform:scaleX(1.245);">2 шт.</div>
<div class="t" style="top:1475.92px;font-size:17.7px;left:985.40px;width:600px;text-align:center;transform-origin:50% 0;transform:scaleX(1.148);">10.0 Нм</div>
<div class="t" style="top:1495.54px;font-size:20.2px;right:456.40px;transform-origin:100% 0;transform:scaleX(0.707);">Гайка M8</div>
<div class="t" style="top:1499.78px;font-size:18.5px;left:821.50px;width:600px;text-align:center;transform-origin:50% 0;transform:scaleX(1.245);">12 шт.</div>
<div class="t" style="top:1518.26px;font-size:20.2px;right:456.40px;transform-origin:100% 0;transform:scaleX(0.707);">Гайка закладная M8x70/20</div>
<div class="t" style="top:1522.50px;font-size:18.5px;left:821.50px;width:600px;text-align:center;transform-origin:50% 0;transform:scaleX(1.245);">10 шт.</div>
<div class="t" style="top:1540.98px;font-size:20.2px;right:456.40px;transform-origin:100% 0;transform:scaleX(0.707);">Шайба 6 увелич/усил</div>
<div class="t" style="top:1545.22px;font-size:18.5px;left:821.50px;width:600px;text-align:center;transform-origin:50% 0;transform:scaleX(1.245);">2 шт.</div>
<div class="t" style="top:1563.70px;font-size:20.2px;right:456.40px;transform-origin:100% 0;transform:scaleX(0.707);">Шайба 6 пруж/гровер</div>
<div class="t" style="top:1567.94px;font-size:18.5px;left:821.50px;width:600px;text-align:center;transform-origin:50% 0;transform:scaleX(1.245);">2 шт.</div>
<div class="t" style="top:1586.42px;font-size:20.2px;right:456.40px;transform-origin:100% 0;transform:scaleX(0.707);">Шайба 8</div>
<div class="t" style="top:1590.66px;font-size:18.5px;left:821.50px;width:600px;text-align:center;transform-origin:50% 0;transform:scaleX(1.245);">22 шт.</div>
<div class="t" style="top:1609.14px;font-size:20.2px;right:456.40px;transform-origin:100% 0;transform:scaleX(0.707);">Шайба 8 увелич/усил</div>
<div class="t" style="top:1613.38px;font-size:18.5px;left:821.50px;width:600px;text-align:center;transform-origin:50% 0;transform:scaleX(1.245);">10 шт.</div>
<div class="t" style="top:1631.86px;font-size:20.2px;right:456.40px;transform-origin:100% 0;transform:scaleX(0.707);">Шайба 8 гров.</div>
<div class="t" style="top:1636.10px;font-size:18.5px;left:821.50px;width:600px;text-align:center;transform-origin:50% 0;transform:scaleX(1.245);">22 шт.</div>
<div class="t" style="top:1654.58px;font-size:20.2px;right:456.40px;transform-origin:100% 0;transform:scaleX(0.707);">Кронштейн передний</div>
<div class="t" style="top:1658.82px;font-size:18.5px;left:821.50px;width:600px;text-align:center;transform-origin:50% 0;transform:scaleX(1.245);">2 шт.</div>
<div class="t" style="top:1677.30px;font-size:20.2px;right:456.40px;transform-origin:100% 0;transform:scaleX(0.707);">Опора передняя</div>
<div class="t" style="top:1681.54px;font-size:18.5px;left:821.50px;width:600px;text-align:center;transform-origin:50% 0;transform:scaleX(1.245);">2 шт.</div>
<div class="t" style="top:1700.02px;font-size:20.2px;right:456.40px;transform-origin:100% 0;transform:scaleX(0.707);">Кронштейн средний</div>
<div class="t" style="top:1704.26px;font-size:18.5px;left:821.50px;width:600px;text-align:center;transform-origin:50% 0;transform:scaleX(1.245);">2 шт.</div>
<div class="t" style="top:1722.74px;font-size:20.2px;right:456.40px;transform-origin:100% 0;transform:scaleX(0.707);">Кронштейн задний</div>
<div class="t" style="top:1726.98px;font-size:18.5px;left:821.50px;width:600px;text-align:center;transform-origin:50% 0;transform:scaleX(1.245);">2 шт.</div>
<div class="t" style="top:1745.46px;font-size:20.2px;right:456.40px;transform-origin:100% 0;transform:scaleX(0.707);">Опора задняя</div>
<div class="t" style="top:1749.70px;font-size:18.5px;left:821.50px;width:600px;text-align:center;transform-origin:50% 0;transform:scaleX(1.245);">2 шт.</div>
<div class="t" style="top:1768.18px;font-size:20.2px;right:456.40px;transform-origin:100% 0;transform:scaleX(0.707);">Опора порога</div>
<div class="t" style="top:1772.42px;font-size:18.5px;left:821.50px;width:600px;text-align:center;transform-origin:50% 0;transform:scaleX(1.245);">6 шт.</div>
<div class="hl" style="left:72px;top:1978px;width:1357px;height:3.8px"></div>
<div class="t" style="top:1984.33px;font-size:12.6px;left:72.00px;transform:scaleX(1.2);font-weight:700;">Перед установкой изделия необходимо убедиться, что автомобиль, на который планируется установка, соответствует модельному ряду, указанному в настоящей инструкции.</div>
<div class="t" style="top:2001.13px;font-size:12.6px;left:72.00px;transform:scaleX(1.2);font-weight:700;">В случае затруднений с определением соответствия обращайтесь службу технической поддержки supp@rivalauto.com. В случае наезда на препятствие необходимо убедиться</div>
<div class="t" style="top:2017.93px;font-size:12.6px;left:72.00px;transform:scaleX(1.2);font-weight:700;">в отсутствии повреждений и агрегатов автомобиля и пригодности дальнейшей эксплуатации порогов. При правильной установке пороги не должны касаться узлов и агрегатов</div>
<div class="t" style="top:2034.73px;font-size:12.6px;left:72.00px;transform:scaleX(1.2);font-weight:700;">автомобиля. Производитель вправе вносить изменения в конструкцию порогов.</div>
<div class="t sf" style="top:2059.21px;font-size:10.5px;left:758.50px;transform:scaleX(1.211);">Данное изделие  после окончания   эксплуатации  подлежит утилизации в соответствии с действующими</div>
<div class="t sf" style="top:2076.21px;font-size:10.5px;left:758.50px;transform:scaleX(1.211);">нормами и правилами. Благодарим Вас за вклад  в охрану окружающей среды</div>
<div class="t" style="left:1374.5px;top:2039px;font-family:'DejaVu Sans',sans-serif;font-size:67px;line-height:72px;color:#1a1a1a;-webkit-text-stroke:1.2px #1a1a1a">♻</div>
<svg width="1500" height="2122" viewBox="0 0 1500 2122"><rect x="1341" y="2052.5" width="32.5" height="46" fill="#fff" stroke="#c4c4c4" stroke-width="2"/><g stroke="#8a8a8a" stroke-width="1.3" fill="none"><path d="M1347.5 2056.5 L1366.5 2085.5 M1366.5 2056.5 L1347.5 2085.5"/><path d="M1351.5 2061.5 H1362.5 L1361 2082 H1353 Z" stroke="#777"/><path d="M1350.5 2060 H1363.5" stroke="#666" stroke-width="1.8"/></g><circle cx="1360.5" cy="2082.5" r="1.6" fill="#777"/><rect x="1349" y="2090" width="16" height="5" fill="#0a0a0a"/><rect x="1349" y="2095" width="16" height="3" fill="#aaa"/></svg>
</div></body></html>
